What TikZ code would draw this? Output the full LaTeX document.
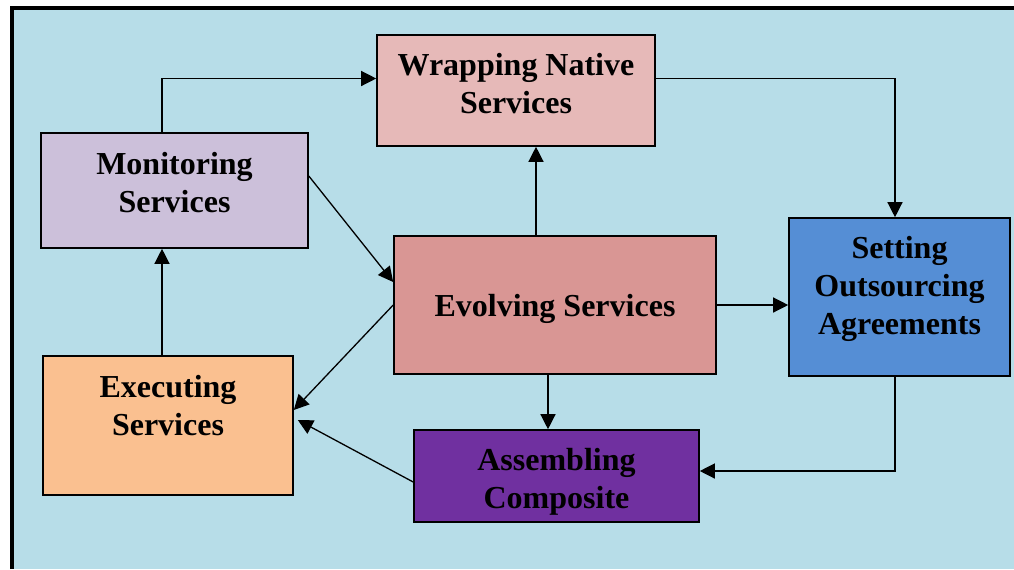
\documentclass[tikz,border=0pt]{standalone}
\usepackage{fontspec}
\setmainfont{Liberation Serif}
\usetikzlibrary{arrows.meta}
\definecolor{bgblue}{HTML}{B7DDE8}
\definecolor{monfill}{HTML}{CCC0DA}
\definecolor{wrapfill}{HTML}{E6B9B8}
\definecolor{evolfill}{HTML}{D99694}
\definecolor{setfill}{HTML}{558ED5}
\definecolor{execfill}{HTML}{FAC090}
\definecolor{asmfill}{HTML}{7030A0}
\tikzset{
	box/.style={draw, line width=0.8pt, rectangle, inner sep=0pt},
	every label/.style={align=center, font=\bfseries\fontsize{16}{19}\selectfont},
	arr/.style={line width=0.65pt, -{Triangle[length=7.5pt,width=7.5pt]}}
}

\begin{document}
\begin{tikzpicture}[x=0.5pt, y=-0.5pt]
		%%%%% START %%%%%
		\useasboundingbox (0, 0) rectangle (1014, 569);
		\fill[bgblue] (12, 8) rectangle (1014, 569);
		\draw[line width=2pt] (12, 569) -- (12, 8) -- (1014, 8);
		
		\node[box, fill=monfill, minimum width=133.5pt, minimum height=57.5pt,
			label={[yshift=3.75pt]center:Monitoring\\Services}] (mon) at (174.5, 190.5) {};
		\node[box, fill=wrapfill, minimum width=139pt, minimum height=55.5pt,
			label={[yshift=3.5pt]center:Wrapping Native\\Services}] (wrap) at (516, 90.5) {};
		\node[box, fill=evolfill, minimum width=161pt, minimum height=69pt,
			label={[yshift=-1.75pt]center:Evolving Services}] (evol) at (555, 305) {};
		\node[box, fill=setfill, minimum width=110.5pt, minimum height=79pt,
			label={[yshift=4.25pt]center:Setting\\Outsourcing\\Agreements}] (set) at (899.5, 297) {};
		\node[box, fill=execfill, minimum width=125pt, minimum height=69.5pt,
			label={[yshift=10pt]center:Executing\\Services}] (exec) at (168, 425.5) {};
		\node[box, fill=asmfill, minimum width=142.5pt, minimum height=46pt,
			label={[yshift=-2.75pt]center:Assembling\\Composite}] (asm) at (556.5, 476) {};
		
		\draw[arr] ([xshift=-6.25pt]mon.north) |- ([yshift=6pt]wrap.west);
		\draw[arr] ([yshift=6pt]wrap.east) -| ([xshift=-2.25pt]set.north);
		\draw[arr] ([xshift=-9.5pt]evol.north) -- ([xshift=-9.5pt]evol.north |- wrap.south);
		\draw[arr] ([yshift=7.25pt]mon.east) -- ([yshift=11.5pt]evol.west);
		\draw[arr] (evol.west) -- ([yshift=7.75pt]exec.east);
		\draw[arr] ([yshift=-3pt]asm.west) -- ([xshift=2pt, yshift=2.75pt]exec.east);
		\draw[arr] ([xshift=-3pt]exec.north) -- ([xshift=-3pt]exec.north |- mon.south);
		\draw[arr] (evol.east) -- (evol.east -| set.west);
		\draw[arr] ([xshift=-3.5pt]evol.south) -- ([xshift=-3.5pt]evol.south |- asm.north);
		\draw[arr] ([xshift=-2.25pt]set.south) |- ([yshift=2.5pt]asm.east);
		%%%%% END %%%%%
	\end{tikzpicture}
\end{document}
